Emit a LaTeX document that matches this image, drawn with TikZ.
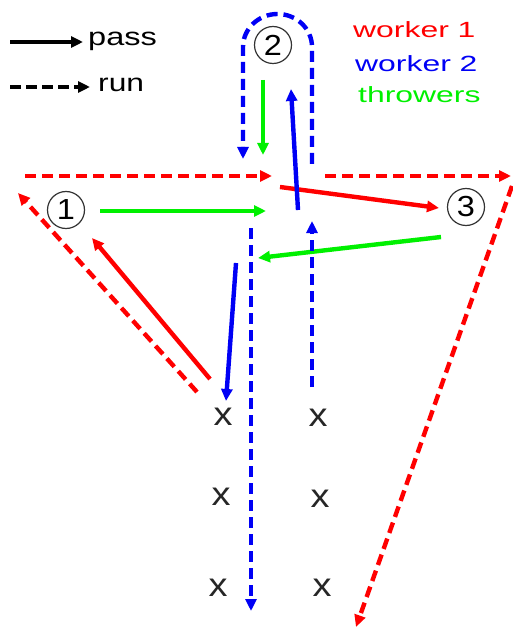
\documentclass[tikz,border=0pt]{standalone}
\usepackage{fontspec}
\setmainfont{Liberation Sans}
\usepackage{graphicx}
\usetikzlibrary{arrows.meta}
\definecolor{wred}{RGB}{255,0,0}
\definecolor{wblue}{RGB}{0,0,245}
\definecolor{wgreen}{RGB}{0,240,0}
\begin{document}
\begin{tikzpicture}[x=1pt,y=-1pt,
  passline/.style={line width=4.4pt,-{Triangle[length=12pt,width=11pt]}},
  runline/.style={line width=4.4pt,dash pattern=on 11pt off 6pt,-{Triangle[length=12pt,width=11pt]}},
  legtext/.style={inner sep=0pt,font=\fontsize{25}{28}\selectfont},
  lbl/.style={inner sep=0pt,anchor=base west,font=\fontsize{22}{26}\selectfont},
  circ/.style={circle,draw=black!80,line width=1.2pt,minimum size=37pt,inner sep=0pt,font=\fontsize{29}{29}\selectfont},
  xmark/.style={inner sep=0pt,text=black!85,font=\fontsize{33}{33}\selectfont}]
\useasboundingbox (0,0) rectangle (512,628);

% legend
\coordinate (lp1) at (10,42);
\coordinate (lp2) at (83,42);
\node[legtext,anchor=base west] (tpass) at (88,46) {\scalebox{1.3}[1]{pass}};
\draw[passline,black,line width=4pt] (lp1) -- (lp2);
\coordinate (lr1) at (10,87);
\coordinate (lr2) at (90,87);
\node[legtext,anchor=base west] (trun) at (98,92) {\scalebox{1.27}[1]{run}};
\draw[runline,black,line width=4pt,dash pattern=on 11pt off 5pt] (lr1) -- (lr2);

% labels
\node[lbl,text=wred] (l1) at (353,38) {\scalebox{1.45}[1]{worker 1}};
\node[lbl,text=wblue] (l2) at (355,72) {\scalebox{1.45}[1]{worker 2}};
\node[lbl,text=wgreen] (l3) at (358,103) {\scalebox{1.45}[1]{throwers}};

% players
\node[circ] (c2) at (273,45) {\scalebox{1.12}[1]{2}};
\node[circ] (c1) at (66,210) {\scalebox{1.12}[1]{1}};
\node[circ] (c3) at (466,207) {\scalebox{1.12}[1]{3}};

\node[xmark] (x1) at (223,417) {\scalebox{1.15}[1]{x}};
\node[xmark] (x2) at (318,418) {\scalebox{1.15}[1]{x}};
\node[xmark] (x3) at (221,497) {\scalebox{1.15}[1]{x}};
\node[xmark] (x4) at (320,499) {\scalebox{1.15}[1]{x}};
\node[xmark] (x5) at (218,588) {\scalebox{1.15}[1]{x}};
\node[xmark] (x6) at (322,588) {\scalebox{1.15}[1]{x}};

% coordinates
\coordinate (ra) at (25,176);
\coordinate (rb) at (272,176);
\coordinate (rc) at (325,176);
\coordinate (rd) at (511,176);
\coordinate (rd2) at (512,186);
\coordinate (re) at (356,627);
\coordinate (rf) at (280,187);
\coordinate (rg) at (439,208);
\coordinate (rh) at (210,379);
\coordinate (ri) at (92,238);
\coordinate (rj) at (197,392);
\coordinate (rk) at (18,193);
\coordinate (ga) at (100,211);
\coordinate (gb) at (266,211);
\coordinate (gc) at (441,237);
\coordinate (gd) at (258,258);
\coordinate (ge) at (263,80);
\coordinate (gf) at (263,155);
\coordinate (ba) at (298,210);
\coordinate (bb) at (291,89);
\coordinate (bc) at (236,263);
\coordinate (bd) at (226,401);
\coordinate (be) at (251,228);
\coordinate (bf) at (251,611);
\coordinate (bg) at (312,387);
\coordinate (bh) at (312,221);
\coordinate (bi) at (312,164);
\coordinate (bj) at (312,47);
\coordinate (bk) at (243,159);

% worker 1 (red)
\draw[runline,wred] (ra) -- (rb);
\draw[runline,wred] (rc) -- (rd);
\draw[runline,wred] (rd2) -- (re);
\draw[passline,wred] (rf) -- (rg);
\draw[passline,wred] (rh) -- (ri);
\draw[runline,wred] (rj) -- (rk);

% throwers (green)
\draw[passline,wgreen] (ga) -- (gb);
\draw[passline,wgreen] (gc) -- (gd);
\draw[passline,wgreen] (ge) -- (gf);

% worker 2 (blue)
\draw[passline,wblue] (ba) -- (bb);
\draw[passline,wblue] (bc) -- (bd);
\draw[runline,wblue] (be) -- (bf);
\draw[runline,wblue] (bg) -- (bh);
\draw[runline,wblue] (bi) -- (bj) arc[start angle=0,end angle=-180,x radius=34.5,y radius=33] -- (bk);
\end{tikzpicture}
\end{document}
